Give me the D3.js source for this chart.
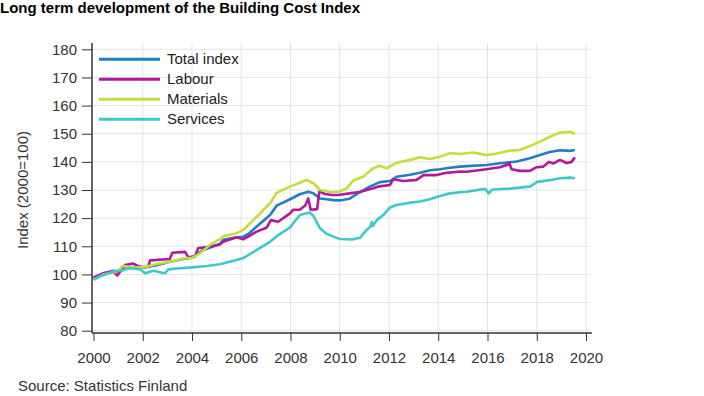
<!DOCTYPE html>
<html>
<head>
<meta charset="utf-8">
<script src="https://cdn.jsdelivr.net/npm/d3@7"></script>
<style>
  body { margin: 0; background: #fff; }
  text { font-family: "Liberation Sans", Arial, sans-serif; }
</style>
</head>
<body>
<svg id="chart" width="704" height="396"></svg>
<script>
// values, [decimal year, index]
var totalIndex = [[2000.0, 98.6], [2000.4, 100.4], [2000.8, 101.3], [2001.07, 101.0], [2001.35, 102.5], [2001.75, 102.5], [2002.03, 102.4], [2002.57, 103.3], [2003.1, 104.5], [2003.65, 105.5], [2004.0, 105.9], [2004.46, 108.7], [2004.86, 109.9], [2005.13, 110.8], [2005.27, 112.3], [2005.81, 113.2], [2006.08, 113.4], [2006.3, 114.5], [2006.63, 117.0], [2007.17, 121.1], [2007.44, 124.5], [2007.7, 125.5], [2007.98, 126.7], [2008.38, 128.5], [2008.73, 129.4], [2008.93, 128.8], [2009.2, 127.0], [2009.47, 126.7], [2009.74, 126.4], [2010.0, 126.3], [2010.4, 126.9], [2010.82, 129.2], [2011.22, 131.2], [2011.63, 132.8], [2012.04, 133.2], [2012.31, 134.7], [2012.85, 135.4], [2013.26, 136.1], [2013.66, 137.0], [2014.07, 137.4], [2014.47, 137.9], [2014.88, 138.3], [2015.15, 138.5], [2015.96, 138.9], [2016.5, 139.5], [2017.18, 140.1], [2017.72, 141.3], [2018.13, 142.4], [2018.53, 143.5], [2018.94, 144.1], [2019.35, 143.9], [2019.55, 144.2]];

var labour = [[2000.0, 98.9], [2000.4, 100.4], [2000.8, 101.0], [2000.97, 99.6], [2001.1, 101.3], [2001.28, 103.3], [2001.6, 103.9], [2001.8, 103.0], [2002.03, 102.5], [2002.22, 102.8], [2002.3, 105.0], [2003.1, 105.5], [2003.2, 107.7], [2003.72, 108.0], [2003.85, 106.1], [2004.12, 106.4], [2004.25, 109.3], [2004.73, 109.9], [2005.13, 110.6], [2005.27, 111.6], [2005.81, 113.2], [2006.08, 112.5], [2006.63, 115.2], [2007.04, 116.7], [2007.2, 119.3], [2007.5, 118.7], [2007.98, 121.7], [2008.11, 123.0], [2008.38, 123.0], [2008.6, 124.5], [2008.72, 127.0], [2008.82, 123.0], [2009.08, 123.2], [2009.17, 129.5], [2009.4, 128.6], [2009.7, 128.2], [2010.0, 128.3], [2010.4, 128.8], [2010.8, 129.3], [2011.36, 130.6], [2011.6, 131.3], [2012.04, 131.8], [2012.17, 133.8], [2012.58, 133.2], [2013.12, 133.6], [2013.4, 135.3], [2013.93, 135.3], [2014.34, 136.1], [2014.88, 136.6], [2015.15, 136.5], [2015.96, 137.4], [2016.5, 138.1], [2016.78, 138.9], [2016.88, 139.7], [2016.98, 137.4], [2017.32, 136.8], [2017.72, 136.8], [2018.0, 138.1], [2018.26, 138.3], [2018.5, 140.0], [2018.67, 139.4], [2018.94, 140.7], [2019.21, 139.6], [2019.4, 139.9], [2019.55, 141.6]];

var materials = [[2000.0, 98.0], [2000.4, 100.0], [2000.94, 101.0], [2001.1, 102.2], [2001.18, 103.0], [2001.6, 102.5], [2002.03, 102.5], [2002.57, 103.7], [2003.1, 104.5], [2003.65, 105.7], [2004.0, 105.9], [2004.3, 107.3], [2004.73, 110.5], [2005.13, 112.5], [2005.27, 113.6], [2005.81, 114.6], [2006.08, 115.8], [2006.63, 120.5], [2007.17, 125.3], [2007.44, 129.0], [2007.98, 131.2], [2008.38, 132.6], [2008.66, 133.6], [2008.93, 132.4], [2009.2, 130.0], [2009.6, 129.3], [2010.0, 129.4], [2010.28, 130.6], [2010.55, 133.4], [2010.95, 134.7], [2011.36, 137.7], [2011.6, 138.6], [2011.9, 137.7], [2012.31, 139.7], [2012.85, 140.7], [2013.26, 141.6], [2013.66, 141.0], [2014.07, 141.8], [2014.47, 143.1], [2014.88, 142.8], [2015.42, 143.3], [2015.96, 142.4], [2016.37, 143.0], [2016.91, 144.0], [2017.32, 144.2], [2017.72, 145.6], [2018.13, 147.2], [2018.53, 148.9], [2018.94, 150.4], [2019.35, 150.7], [2019.55, 149.9]];

var services = [[2000.0, 98.3], [2000.4, 99.8], [2000.8, 101.0], [2001.07, 101.3], [2001.48, 102.2], [2001.9, 101.8], [2002.09, 100.4], [2002.43, 101.3], [2002.9, 100.4], [2003.04, 101.8], [2003.52, 102.2], [2004.0, 102.5], [2004.6, 103.0], [2005.13, 103.6], [2005.81, 105.1], [2006.08, 105.8], [2006.63, 108.7], [2007.17, 111.6], [2007.44, 113.6], [2007.98, 116.7], [2008.38, 121.1], [2008.78, 122.0], [2008.93, 120.8], [2009.2, 116.4], [2009.47, 114.4], [2009.88, 113.0], [2010.0, 112.6], [2010.5, 112.4], [2010.82, 113.0], [2011.09, 115.8], [2011.25, 117.0], [2011.3, 118.6], [2011.35, 117.2], [2011.5, 119.3], [2011.77, 121.1], [2012.04, 123.8], [2012.31, 124.7], [2012.85, 125.5], [2013.26, 125.9], [2013.66, 126.7], [2014.07, 127.9], [2014.47, 128.8], [2014.88, 129.2], [2015.15, 129.4], [2015.9, 130.4], [2016.05, 128.8], [2016.2, 130.2], [2016.91, 130.5], [2017.72, 131.2], [2018.02, 132.9], [2018.53, 133.5], [2018.94, 134.2], [2019.35, 134.4], [2019.55, 134.2]];

var seriesNames = ["Total index", "Labour", "Materials", "Services"];
var seriesColors = ["#1f7fc5", "#b3189a", "#c5dd3c", "#3ec9c9"];
var seriesData = [totalIndex, labour, materials, services];

var yearTicks = d3.range(2000, 2021, 2);
var indexTicks = d3.range(80, 181, 10);

var svg = d3.select("#chart");

var x_scale = d3.scaleLinear().domain([2000, 2020]).range([93.5, 586]);
var y_scale = d3.scaleLinear().domain([80, 180]).range([330.7, 49.3]);

var plot_left = 92, plot_right = 590, plot_top = 43, plot_bottom = 333;

// grid
svg.append("g").selectAll("line.hgrid")
    .data(indexTicks)
    .enter()
    .append("line")
    .attr("x1", plot_left).attr("x2", plot_right)
    .attr("y1", function(d){return y_scale(d);})
    .attr("y2", function(d){return y_scale(d);})
    .style("stroke", "#e3e3e3").style("stroke-width", 1);

svg.append("g").selectAll("line.vgrid")
    .data(yearTicks.slice(1))
    .enter()
    .append("line")
    .attr("x1", function(d){return x_scale(d);})
    .attr("x2", function(d){return x_scale(d);})
    .attr("y1", plot_top).attr("y2", plot_bottom)
    .style("stroke", "#e3e3e3").style("stroke-width", 1);

// axes
var y_axis = svg.append("g")
    .attr("transform", "translate(" + plot_left + ",0)")
    .call(d3.axisLeft(y_scale).tickValues(indexTicks).tickSize(10).tickPadding(5));
y_axis.select(".domain").remove();
y_axis.selectAll("text").style("font-size", "15px").style("fill", "#333");
y_axis.selectAll(".tick line").style("stroke", "#333");

var x_axis = svg.append("g")
    .attr("transform", "translate(0," + plot_bottom + ")")
    .call(d3.axisBottom(x_scale).tickValues(yearTicks).tickFormat(d3.format("d")).tickSize(8).tickPadding(11));
x_axis.select(".domain").remove();
x_axis.selectAll("text").style("font-size", "15px").style("fill", "#333");
x_axis.selectAll(".tick line").style("stroke", "#333");

svg.append("line")
    .attr("x1", plot_left).attr("x2", plot_left)
    .attr("y1", plot_top).attr("y2", plot_bottom)
    .style("stroke", "#333").style("stroke-width", 1.5);
svg.append("line")
    .attr("x1", plot_left).attr("x2", plot_right + 2)
    .attr("y1", plot_bottom).attr("y2", plot_bottom)
    .style("stroke", "#333").style("stroke-width", 1.5);

// series lines
var line = d3.line()
    .x(function(d){return x_scale(d[0]);})
    .y(function(d){return y_scale(d[1]);});

svg.append("g").selectAll("path")
    .data(seriesData)
    .enter()
    .append("path")
    .attr("d", line)
    .style("fill", "none")
    .style("stroke", function(d, i){return seriesColors[i];})
    .style("stroke-width", 2.6)
    .style("stroke-linejoin", "round");

// legend
var legend = svg.append("g").selectAll("g")
    .data(seriesNames)
    .enter()
    .append("g")
    .attr("transform", function(d, i){return "translate(99," + (59.3 + i * 20) + ")";});
legend.append("line")
    .attr("x1", 0).attr("x2", 61)
    .style("stroke", function(d, i){return seriesColors[i];})
    .style("stroke-width", 3);
legend.append("text")
    .attr("x", 68).attr("y", 5)
    .style("font-size", "15px").style("fill", "#222")
    .text(function(d){return d;});

// texts
svg.append("text")
    .attr("x", 0).attr("y", 12.5)
    .style("font-size", "15px").style("font-weight", "bold").style("fill", "#000")
    .text("Long term development of the Building Cost Index");

svg.append("text")
    .attr("transform", "translate(28,190) rotate(-90)")
    .attr("text-anchor", "middle")
    .style("font-size", "15px").style("fill", "#333")
    .text("Index (2000=100)");

svg.append("text")
    .attr("x", 18).attr("y", 391)
    .style("font-size", "15px").style("fill", "#333")
    .text("Source: Statistics Finland");
</script>
</body>
</html>
